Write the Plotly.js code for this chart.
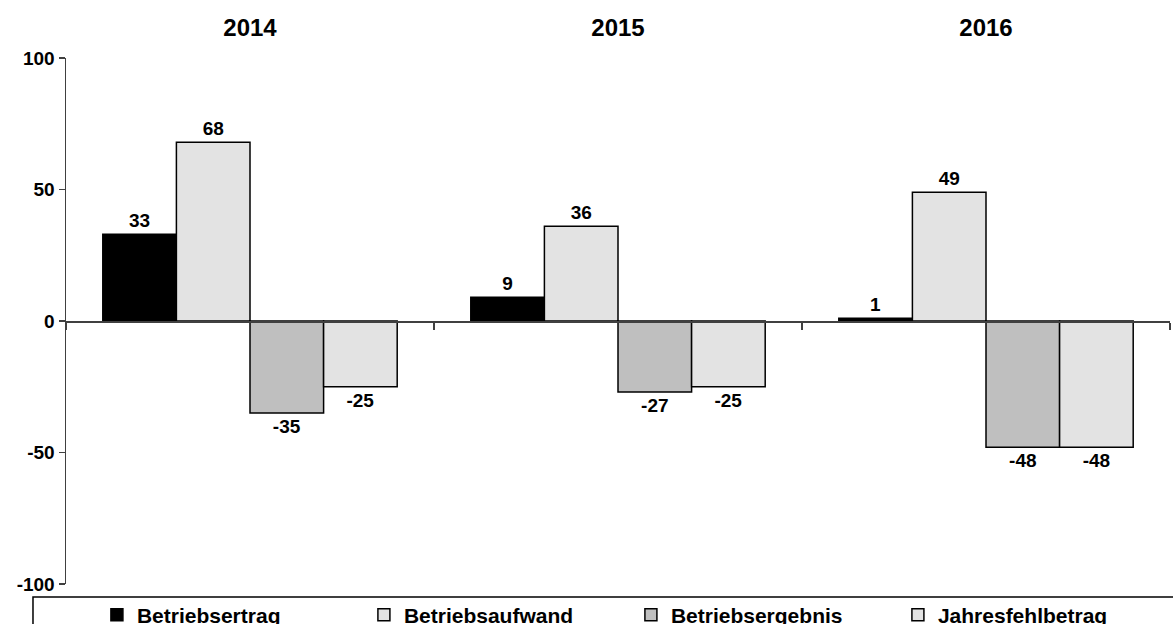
<!DOCTYPE html>
<html>
<head>
<meta charset="utf-8">
<script src="https://cdn.plot.ly/plotly-3.0.1.min.js"></script>
<style>html,body{margin:0;padding:0;background:#fff;}#chart{width:1173px;height:624px;}</style>
</head>
<body>
<div id="chart"></div>
<script>
const years = ['2014', '2015', '2016'];
const seriesNames = ['Betriebsertrag', 'Betriebsaufwand', 'Betriebsergebnis', 'Jahresfehlbetrag'];
const betriebsertrag = [33, 9, 1];
const betriebsaufwand = [68, 36, 49];
const betriebsergebnis = [-35, -27, -48];
const jahresfehlbetrag = [-25, -25, -48];
const yTicks = [-100, -50, 0, 50, 100];

const colors = ['#000000', '#e3e3e3', '#bfbfbf', '#e3e3e3'];
const values = [betriebsertrag, betriebsaufwand, betriebsergebnis, jahresfehlbetrag];
const FONT = 'Liberation Sans, Arial, sans-serif';

const traces = values.map((v, i) => ({
  type: 'bar',
  name: seriesNames[i],
  x: years,
  y: v,
  text: v.map(String),
  textposition: 'outside',
  cliponaxis: false,
  textfont: {family: FONT, size: 19, color: '#000', weight: 'bold'},
  marker: {color: colors[i], line: {color: '#000', width: 1.5}},
  hoverinfo: 'none'
}));

// dummy invisible trace to activate the top axis carrying the year labels
traces.push({type: 'scatter', x: [0], y: [null], xaxis: 'x2', yaxis: 'y', showlegend: false, hoverinfo: 'none', mode: 'markers'});

const layout = {
  width: 1173, height: 624,
  margin: {l: 66, r: 3, t: 58, b: 40, autoexpand: false},
  paper_bgcolor: '#fff', plot_bgcolor: '#fff',
  font: {family: FONT, color: '#000'},
  barmode: 'group', bargap: 0.2, bargroupgap: 0,
  showlegend: true,
  legend: {
    orientation: 'h', x: 0.028, xanchor: 'left', y: -0.02, yanchor: 'top',
    borderwidth: 0, bgcolor: 'rgba(0,0,0,0)',
    entrywidth: 222, entrywidthmode: 'pixels',
    font: {family: FONT, size: 21, color: '#000', weight: 'bold'},
    itemclick: false
  },
  shapes: [{
    type: 'rect', xref: 'paper', yref: 'paper',
    x0: -0.0299, x1: 1.2, y0: -0.0247, y1: -0.3,
    line: {color: '#000', width: 1.5}, fillcolor: 'rgba(0,0,0,0)', layer: 'below'
  }],
  xaxis: {
    type: 'category', categoryorder: 'array', categoryarray: years,
    range: [-0.5, 2.5], anchor: 'free', position: 0.5,
    showline: true, linecolor: '#404040', linewidth: 1.5,
    ticks: 'outside', tickson: 'boundaries', ticklen: 7, tickwidth: 1.5, tickcolor: '#404040',
    showticklabels: false, showgrid: false, zeroline: false, fixedrange: true
  },
  xaxis2: {
    overlaying: 'x', side: 'top', anchor: 'y', type: 'linear',
    range: [-0.5, 2.5], tickvals: [0, 1, 2], ticktext: years,
    ticks: 'outside', ticklen: 11, tickcolor: 'rgba(0,0,0,0)',
    tickfont: {family: FONT, size: 24, color: '#000', weight: 'bold'},
    showline: false, showgrid: false, zeroline: false, fixedrange: true
  },
  yaxis: {
    range: [-100, 100], tickvals: yTicks, ticktext: yTicks.map(String),
    showline: true, linecolor: '#404040', linewidth: 1.5,
    ticks: 'outside', ticklen: 6, tickwidth: 1.5, tickcolor: '#404040',
    tickfont: {family: FONT, size: 19, color: '#000', weight: 'bold'},
    showgrid: false, zeroline: false, fixedrange: true
  }
};

Plotly.newPlot('chart', traces, layout, {displayModeBar: false, staticPlot: true});
</script>
</body>
</html>
